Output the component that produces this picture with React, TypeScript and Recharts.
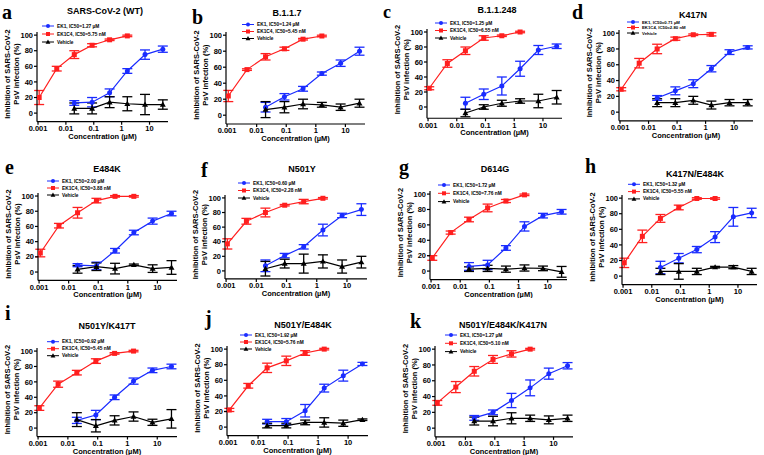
import React from "react";
import { ComposedChart, Scatter, XAxis, YAxis, ErrorBar, Label } from "recharts";

const panelLetters = ["a", "b", "c", "d", "e", "f", "g", "h", "i", "j", "k"];
const panelTitles = [
  "SARS-CoV-2 (WT)",
  "B.1.1.7",
  "B.1.1.248",
  "K417N",
  "E484K",
  "N501Y",
  "D614G",
  "K417N/E484K",
  "N501Y/K417T",
  "N501Y/E484K",
  "N501Y/E484K/K417N",
];
const ek1IC50 = ["1.27", "1.24", "1.25", "0.71", "2.00", "0.60", "1.72", "1.32", "0.92", "1.92", "1.27"];
const ek1c4IC50 = ["5.75", "5.45", "6.55", "2.80", "3.88", "2.28", "7.76", "5.55", "5.45", "5.76", "5.10"];

// concentrations in µM
const ek1c4Conc = [0.0011, 0.0047, 0.02, 0.087, 0.37, 1.6];
const ek1Conc = [0.02, 0.087, 0.37, 1.6, 6.9, 30];
const xTicks = [0.001, 0.01, 0.1, 1, 10];
const yTicks = [0, 20, 40, 60, 80, 100];

// one row per panel (a..k)
const ek1Mean = [
  [13, 14, 26, 54, 75, 82],
  [10, 23, 33, 52, 65, 80],
  [5, 17, 28, 51, 76, 81],
  [18, 27, 36, 55, 76, 82],
  [9, 8, 28, 52, 67, 77],
  [7, 21, 33, 56, 76, 84],
  [6, 8, 30, 58, 72, 77],
  [11, 23, 34, 50, 76, 81],
  [10, 17, 40, 61, 75, 80],
  [7, 7, 21, 50, 66, 81],
  [13, 20, 35, 51, 69, 79],
];
const ek1Err = [
  [3, 6, 5, 3, 6, 4],
  [6, 4, 3, 2, 4, 5],
  [8, 7, 12, 10, 6, 3],
  [3, 5, 5, 4, 3, 2],
  [2, 5, 3, 3, 4, 3],
  [8, 3, 3, 8, 3, 8],
  [5, 6, 3, 6, 3, 3],
  [8, 6, 4, 7, 12, 6],
  [4, 6, 3, 4, 3, 3],
  [3, 4, 8, 5, 7, 2],
  [3, 3, 9, 10, 7, 4],
];
const ek1c4Mean = [
  [20, 57, 75, 87, 94, 99],
  [24, 57, 73, 83, 95, 99],
  [25, 58, 75, 92, 95, 100],
  [29, 62, 80, 93, 98, 98.5],
  [25, 61, 78, 94, 99.6, 99.6],
  [37, 68, 80, 90, 95, 99.5],
  [17, 50, 67, 82, 91, 99],
  [17, 51, 74, 88, 99.5, 99.5],
  [26, 57, 72, 87, 97, 100],
  [22, 53, 76, 85, 95, 100],
  [32, 52, 72, 87, 94, 100],
];
const ek1c4Err = [
  [9, 3, 5, 2, 1, 1],
  [7, 1, 4, 2, 1, 1],
  [2, 5, 5, 3, 1, 1],
  [2, 6, 6, 2, 1, 2],
  [5, 3, 7, 3, 1, 1],
  [7, 4, 6, 1, 3, 1],
  [3, 2, 3, 5, 2, 1],
  [6, 8, 5, 3, 1, 1],
  [3, 4, 3, 3, 1, 1],
  [2, 3, 6, 6, 3, 1],
  [3, 7, 6, 5, 4, 1],
];
const vehicleMean = [
  [6, 6, 14, 12, 11, 11],
  [7, 10, 14, 13, 10, 15],
  [-8, 0, 5, 8, 8, 13],
  [12, 12, 15, 9, 12, 12],
  [3.5, 7, 4.5, 9.5, 4.5, 6],
  [3, 10, 10, 13, 6, 12],
  [2.5, 3.5, 2.5, 4, 3.5, -1],
  [6, 6, 6, 11.5, 11.5, 6],
  [11, 3, 10, 15, 7.5, 12],
  [2, 2, 6, 6, 5, 9.5],
  [9, 9, 12.5, 12.5, 10.5, 12.5],
];
const vehicleErr = [
  [7, 7, 7, 9, 13, 6],
  [10, 7, 6, 3, 4, 5],
  [5, 3, 4, 3, 9, 9],
  [5, 5, 5, 5, 4, 4],
  [5, 5, 7, 1, 5, 9],
  [10, 6, 13, 9, 9, 8],
  [3, 4, 4, 4, 3, 7],
  [4, 10, 4, 1, 2, 4],
  [9, 8, 6, 6, 4, 12],
  [3, 3, 3, 6, 4, 1],
  [5, 6, 7, 4, 5, 4],
];

const BLUE = "#1a2cff";
const RED = "#ff1f1f";
const BLACK = "#000";
const FONT = "'Liberation Sans', Arial, sans-serif";
const Y_MAX = 104;
const X_DOMAIN = [0.00092, 46];

// ax = y-axis x, y100/y0 = pixel rows of 100 and 0, w = plot width
// t = title centre, l = letter baseline, g = legend start
const LAYOUT = [
  { ax: 37, y100: 35, y0: 113, w: 131, yMin: -11, tx: 105, ty: 11, lx: 2, ly: 18.5, gx: 42, gy: 26, gd: 8 },
  { ax: 226, y100: 35, y0: 115, w: 139, yMin: -11, tx: 287, ty: 12.5, lx: 192, ly: 24, gx: 242, gy: 24.5, gd: 7 },
  { ax: 427, y100: 32, y0: 107, w: 135, yMin: -15, tx: 497, ty: 10, lx: 383, ly: 17.5, gx: 435, gy: 23, gd: 7.5 },
  { ax: 619, y100: 33, y0: 112, w: 134, yMin: -11, tx: 693, ty: 15, lx: 572, ly: 18.5, gx: 627, gy: 22, gd: 5.5 },
  { ax: 38, y100: 196, y0: 272, w: 139, yMin: -11, tx: 107, ty: 169, lx: 5, ly: 173.5, gx: 47, gy: 181, gd: 7 },
  { ax: 225, y100: 198, y0: 271, w: 142, yMin: -11, tx: 302, ty: 169, lx: 201, ly: 176.5, gx: 238, gy: 183, gd: 7.5 },
  { ax: 430, y100: 194, y0: 271, w: 137, yMin: -11, tx: 495, ty: 169, lx: 399, ly: 173.5, gx: 438, gy: 185, gd: 8.3 },
  { ax: 622, y100: 198, y0: 276, w: 135, yMin: -11, tx: 695, ty: 174, lx: 585, ly: 173, gx: 628, gy: 184.3, gd: 7.3 },
  { ax: 37, y100: 351, y0: 428, w: 140, yMin: -11, tx: 107, ty: 326, lx: 5, ly: 320, gx: 47, gy: 341.7, gd: 7 },
  { ax: 227, y100: 349, y0: 427, w: 141, yMin: -11, tx: 303, ty: 325, lx: 205, ly: 325, gx: 240, gy: 335, gd: 7 },
  { ax: 435, y100: 349, y0: 428, w: 138, yMin: -11, tx: 503, ty: 325, lx: 410, ly: 328, gx: 445, gy: 335, gd: 8.3 },
];

const tickStyle = { fontSize: 7.5, fontWeight: 700, fill: BLACK, fontFamily: FONT };
const axisStroke = { stroke: BLACK, strokeWidth: 1.2 };

const circleDot = (p: any) => <circle cx={p.cx} cy={p.cy} r={2.5} fill={BLUE} />;
const squareDot = (p: any) => <rect x={p.cx - 2.5} y={p.cy - 2.5} width={5} height={5} fill={RED} />;
const triangleDot = (p: any) => (
  <polygon
    points={`${p.cx},${p.cy - 3} ${p.cx + 3},${p.cy + 2.2} ${p.cx - 3},${p.cy + 2.2}`}
    fill={BLACK}
  />
);

function Panel({ i }: { i: number }) {
  const L = LAYOUT[i];
  const k = (L.y0 - L.y100) / 100;
  const plotTop = L.y100 - (Y_MAX - 100) * k;
  const plotBottom = L.y0 - L.yMin * k;
  const width = 40 + L.w + 6;
  const height = 4 + (plotBottom - plotTop) + 17 + 2;

  const red = ek1c4Conc.map((x, j) => ({ x, y: ek1c4Mean[i][j], e: ek1c4Err[i][j] }));
  const blue = ek1Conc.map((x, j) => ({ x, y: ek1Mean[i][j], e: ek1Err[i][j] }));
  const veh = ek1Conc.map((x, j) => ({ x, y: vehicleMean[i][j], e: vehicleErr[i][j] }));

  return (
    <div style={{ position: "absolute", left: L.ax - 40, top: plotTop - 4 }}>
      <ComposedChart width={width} height={height} margin={{ top: 4, right: 6, bottom: 2, left: 10 }}>
        <XAxis
          type="number"
          dataKey="x"
          scale="log"
          domain={X_DOMAIN}
          allowDataOverflow
          ticks={xTicks}
          interval={0}
          tickFormatter={(v) => String(v)}
          tick={tickStyle}
          tickSize={3}
          tickMargin={1}
          axisLine={axisStroke}
          tickLine={axisStroke}
          height={17}
        >
          <Label
            value="Concentration (µM)"
            position="insideBottom"
            offset={0}
            style={{ fontSize: 7.5, fontWeight: 700, fill: BLACK, fontFamily: FONT }}
          />
        </XAxis>
        <YAxis
          type="number"
          dataKey="y"
          domain={[L.yMin, Y_MAX]}
          allowDataOverflow
          ticks={yTicks}
          interval={0}
          tick={tickStyle}
          tickSize={3}
          tickMargin={1}
          axisLine={axisStroke}
          tickLine={axisStroke}
          width={30}
        />
        <Scatter
          data={red}
          fill={RED}
          shape={squareDot}
          line={{ stroke: RED, strokeWidth: 1.2 }}
          isAnimationActive={false}
        >
          <ErrorBar dataKey="e" direction="y" width={5} stroke={RED} strokeWidth={1.3} />
        </Scatter>
        <Scatter
          data={blue}
          fill={BLUE}
          shape={circleDot}
          line={{ stroke: BLUE, strokeWidth: 1.2 }}
          isAnimationActive={false}
        >
          <ErrorBar dataKey="e" direction="y" width={5} stroke={BLUE} strokeWidth={1.3} />
        </Scatter>
        <Scatter
          data={veh}
          fill={BLACK}
          shape={triangleDot}
          line={{ stroke: BLACK, strokeWidth: 1.2 }}
          isAnimationActive={false}
        >
          <ErrorBar dataKey="e" direction="y" width={5} stroke={BLACK} strokeWidth={1.3} />
        </Scatter>
      </ComposedChart>
    </div>
  );
}

function LegendMarker({ shape, x, y, color }: { shape: string; x: number; y: number; color: string }) {
  if (shape === "circle") return <circle cx={x} cy={y} r={2} fill={color} />;
  if (shape === "square") return <rect x={x - 2} y={y - 2} width={4} height={4} fill={color} />;
  return <polygon points={`${x},${y - 2.4} ${x + 2.4},${y + 1.8} ${x - 2.4},${y + 1.8}`} fill={color} />;
}

function Overlay() {
  return (
    <svg
      width={764}
      height={455}
      style={{ position: "absolute", left: 0, top: 0, pointerEvents: "none" }}
      fontFamily={FONT}
    >
      {LAYOUT.map((L, i) => {
        const cy = (L.y100 + L.y0) / 2;
        const entries = [
          { name: `EK1, IC50=${ek1IC50[i]} µM`, color: BLUE, shape: "circle" },
          { name: `EK1C4, IC50=${ek1c4IC50[i]} nM`, color: RED, shape: "square" },
          { name: "Vehicle", color: BLACK, shape: "triangle" },
        ];
        const legendSize = i === 3 ? 4.3 : 4.8;
        return (
          <g key={i}>
            <text
              x={L.lx}
              y={L.ly}
              fontFamily="'Liberation Serif', 'Times New Roman', serif"
              fontWeight={700}
              fontSize={i === 2 ? 18 : 20}
              fill={BLACK}
            >
              {panelLetters[i]}
            </text>
            <text
              x={L.tx}
              y={L.ty}
              textAnchor="middle"
              dominantBaseline="central"
              fontWeight={700}
              fontSize={9}
              fill={BLACK}
            >
              {panelTitles[i]}
            </text>
            <text
              transform={`rotate(-90 ${L.ax - 30} ${cy})`}
              x={L.ax - 30}
              y={cy}
              textAnchor="middle"
              dominantBaseline="central"
              fontWeight={700}
              fontSize={7.5}
              fill={BLACK}
            >
              Inhibition of SARS-CoV-2
            </text>
            <text
              transform={`rotate(-90 ${L.ax - 20.5} ${cy})`}
              x={L.ax - 20.5}
              y={cy}
              textAnchor="middle"
              dominantBaseline="central"
              fontWeight={700}
              fontSize={7.5}
              fill={BLACK}
            >
              PsV infection (%)
            </text>
            {entries.map((e, j) => {
              const y = L.gy + j * L.gd;
              return (
                <g key={j}>
                  <line x1={L.gx} x2={L.gx + 12} y1={y} y2={y} stroke={e.color} strokeWidth={1} />
                  <LegendMarker shape={e.shape} x={L.gx + 6} y={y} color={e.color} />
                  <text
                    x={L.gx + 15}
                    y={y}
                    dominantBaseline="central"
                    fontWeight={700}
                    fontSize={legendSize}
                    fill={BLACK}
                  >
                    {e.name}
                  </text>
                </g>
              );
            })}
          </g>
        );
      })}
    </svg>
  );
}

export default function App() {
  return (
    <div
      style={{
        position: "absolute",
        left: 0,
        top: 0,
        width: 764,
        height: 455,
        background: "#fff",
        fontFamily: FONT,
      }}
    >
      {LAYOUT.map((_, i) => (
        <Panel key={i} i={i} />
      ))}
      <Overlay />
    </div>
  );
}
